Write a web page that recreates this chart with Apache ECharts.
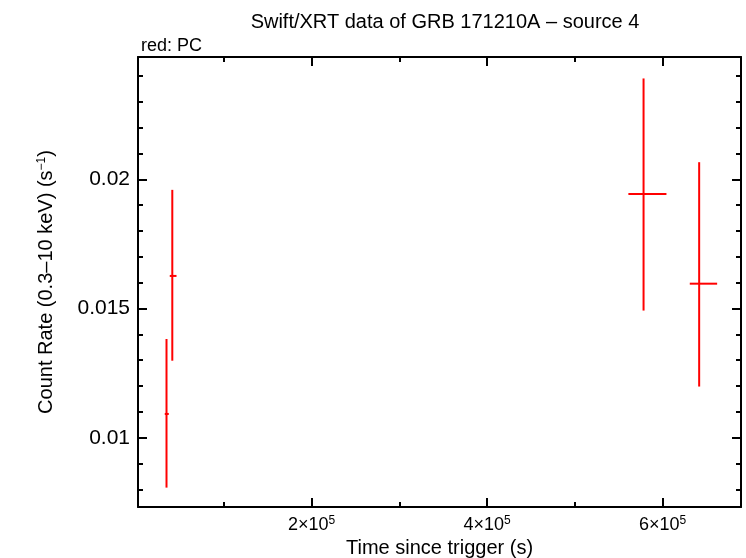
<!DOCTYPE html>
<html>
<head>
<meta charset="utf-8">
<script src="https://cdn.jsdelivr.net/npm/echarts@6/dist/echarts.min.js"></script>
<style>html,body{margin:0;padding:0;background:#fff;}#c{width:746px;height:558px;}</style>
</head>
<body>
<div id="c"></div>
<script>
// Data (PC mode, red)
const times    = [34500, 41100, 578400, 641800];
const timeLo   = [32500, 38200, 561100, 631100];
const timeHi   = [37100, 45900, 604500, 662300];
const rates    = [0.01092, 0.01626, 0.01943, 0.01596];
const rateLo   = [0.00807, 0.01298, 0.01492, 0.01198];
const rateHi   = [0.01382, 0.01959, 0.02390, 0.02066];

const xMajorTicks = [200000, 400000, 600000];
const xMinorTicks = [100000, 300000, 500000];
const xTickLabels = ['2×10{s|5}', '4×10{s|5}', '6×10{s|5}'];
const yMajorTicks = [0.01, 0.015, 0.02];
const yMinorTicks = [0.008, 0.009, 0.011, 0.012, 0.013, 0.014, 0.016, 0.017, 0.018, 0.019, 0.021, 0.022, 0.023, 0.024];
const yTickLabels = ['0.01', '0.015', '0.02'];

const X_MIN = 2000, X_MAX = 689500;
const Y_MIN = 0.00732, Y_MAX = 0.02473;

const FONT = 'Liberation Sans, Arial, sans-serif';
const chart = echarts.init(document.getElementById('c'), null, {renderer: 'canvas'});

function xAxisDef(pos, ticks, len, withLine, withLabels) {
  return {
    type: 'value', position: pos, min: X_MIN, max: X_MAX,
    splitLine: {show: false},
    axisLine: {show: withLine, onZero: false, lineStyle: {color: '#000', width: 2}},
    axisTick: {show: true, inside: true, length: len, customValues: ticks, lineStyle: {color: '#000', width: 2}},
    axisLabel: withLabels ? {
      show: true, customValues: xMajorTicks, margin: 8,
      formatter: function (v) { const i = xMajorTicks.indexOf(v); return i >= 0 ? xTickLabels[i] : ''; },
      color: '#000', fontFamily: FONT, fontSize: 18,
      rich: {s: {fontSize: 12, verticalAlign: 'top', padding: [0, 0, 8, 0], color: '#000', fontFamily: FONT}}
    } : {show: false},
    name: withLabels ? 'Time since trigger (s)' : '',
    nameLocation: 'middle', nameGap: 29,
    nameTextStyle: {color: '#000', fontFamily: FONT, fontSize: 20}
  };
}
function yAxisDef(pos, ticks, len, withLine, withLabels) {
  return {
    type: 'value', position: pos, min: Y_MIN, max: Y_MAX,
    splitLine: {show: false},
    axisLine: {show: withLine, onZero: false, lineStyle: {color: '#000', width: 2}},
    axisTick: {show: true, inside: true, length: len, customValues: ticks, lineStyle: {color: '#000', width: 2}},
    axisLabel: withLabels ? {
      show: true, customValues: yMajorTicks, margin: 8,
      formatter: function (v) { const i = yMajorTicks.findIndex(t => Math.abs(t - v) < 1e-9); return i >= 0 ? yTickLabels[i] : ''; },
      color: '#000', fontFamily: FONT, fontSize: 21
    } : {show: false},
    name: withLabels ? 'Count Rate (0.3\u201310 keV) (s{s|\u22121})' : '',
    nameLocation: 'middle', nameGap: 81, nameRotate: 90,
    nameTextStyle: {color: '#000', fontFamily: FONT, fontSize: 20,
      rich: {s: {fontSize: 12, verticalAlign: 'top', padding: [0, 0, 9, 0], color: '#000', fontFamily: FONT}}}
  };
}

const seriesData = times.map((t, i) => [t, timeLo[i], timeHi[i], rates[i], rateLo[i], rateHi[i]]);

chart.setOption({
  animation: false,
  backgroundColor: '#fff',
  title: [
    {text: 'Swift/XRT data of GRB 171210A \u2013 source 4', left: 440, top: 7, textAlign: 'center',
     textStyle: {fontFamily: FONT, fontSize: 20, fontWeight: 'normal', color: '#000'}},
    {text: 'red: PC', left: 136, top: 32,
     textStyle: {fontFamily: FONT, fontSize: 18, fontWeight: 'normal', color: '#000'}}
  ],
  grid: {left: 138, right: 5, top: 57, bottom: 51, containLabel: false, outerBoundsMode: 'none'},
  xAxis: [
    xAxisDef('bottom', xMajorTicks, 9, true, true),
    xAxisDef('bottom', xMinorTicks, 5, false, false),
    xAxisDef('top', xMajorTicks, 9, true, false),
    xAxisDef('top', xMinorTicks, 5, false, false)
  ],
  yAxis: [
    yAxisDef('left', yMajorTicks, 9, true, true),
    yAxisDef('left', yMinorTicks, 5, false, false),
    yAxisDef('right', yMajorTicks, 9, true, false),
    yAxisDef('right', yMinorTicks, 5, false, false)
  ],
  series: [{
    type: 'custom',
    xAxisIndex: 0, yAxisIndex: 0,
    data: seriesData,
    encode: {x: [0, 1, 2], y: [3, 4, 5]},
    renderItem: function (params, api) {
      const c = api.coord([api.value(0), api.value(3)]);
      const xl = api.coord([api.value(1), api.value(3)]);
      const xh = api.coord([api.value(2), api.value(3)]);
      const yl = api.coord([api.value(0), api.value(4)]);
      const yh = api.coord([api.value(0), api.value(5)]);
      const style = {stroke: '#ff0000', lineWidth: 2};
      return {
        type: 'group',
        children: [
          {type: 'line', shape: {x1: xl[0], y1: c[1], x2: xh[0], y2: c[1]}, style: style},
          {type: 'line', shape: {x1: c[0], y1: yl[1], x2: c[0], y2: yh[1]}, style: style}
        ]
      };
    }
  }]
});
</script>
</body>
</html>
